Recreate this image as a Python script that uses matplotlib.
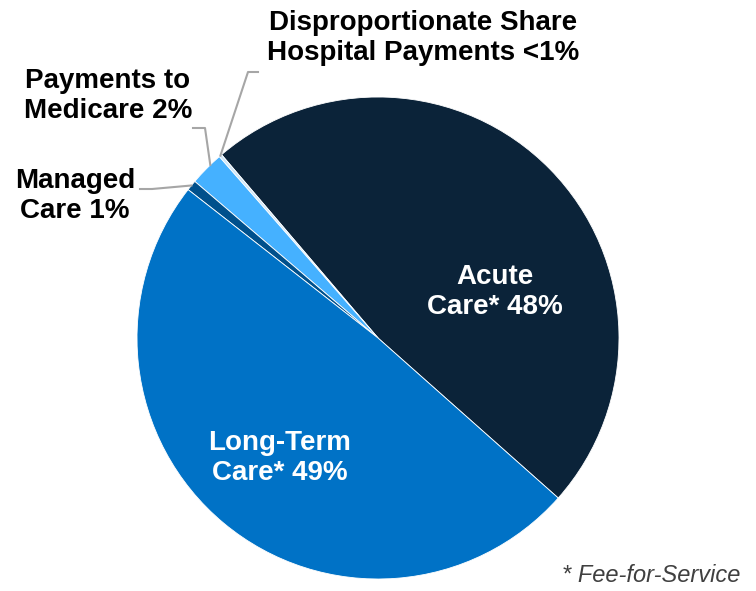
import matplotlib
matplotlib.use("Agg")
import matplotlib.pyplot as plt
import numpy as np

categories = ["Acute Care*", "Disproportionate Share Hospital Payments",
              "Payments to Medicare", "Managed Care", "Long-Term Care*"]
values = [47.8, 0.2, 2.3, 0.7, 49.0]
colors = ["#0b2339", "#cfe6f7", "#45b1ff", "#00508c", "#0072c6"]

plt.rcParams['font.family'] = ['Liberation Sans', 'DejaVu Sans']

W, H = 756, 591
fig = plt.figure(figsize=(W / 100, H / 100), dpi=100)
ax = fig.add_axes([0, 0, 1, 1])
ax.set_xlim(0, W)
ax.set_ylim(0, H)
ax.set_aspect('equal')
ax.axis('off')

cx, cy, r = 378, H - 338, 241
wedges, _ = ax.pie(values, colors=colors, startangle=-41.6, counterclock=True,
                   center=(cx, cy), radius=r,
                   wedgeprops=dict(edgecolor='white', linewidth=0.6))
ax.set_xlim(0, W)
ax.set_ylim(0, H)


def edge_point(w, frac=0.5, rr=1.0):
    ang = np.deg2rad(w.theta1 + frac * (w.theta2 - w.theta1))
    return cx + r * rr * np.cos(ang), cy + r * rr * np.sin(ang)


lc = "#a6a6a6"
fs = 20
ls = 1.25
# Inside labels
ax.text(495, H - 292, "Acute\nCare* 48%", color='white', fontsize=fs,
        fontweight='bold', ha='center', va='center', linespacing=ls)
ax.text(280, H - 458, "Long-Term\nCare* 49%", color='white', fontsize=fs,
        fontweight='bold', ha='center', va='center', linespacing=ls)

# DSH
px, py = edge_point(wedges[1], 0.5, 1.0)
ax.plot([258, 248, px], [H - 72, H - 72, py], color=lc, lw=1.5)
ax.text(423, H - 38, "Disproportionate Share\nHospital Payments <1%", color='black',
        fontsize=fs, fontweight='bold', ha='center', va='center', linespacing=ls)

# Medicare
px, py = edge_point(wedges[2], 0.35, 1.0)
ax.plot([193, 205, px], [H - 128, H - 128, py], color=lc, lw=1.5)
ax.text(108, H - 96, "Payments to\nMedicare 2%", color='black',
        fontsize=fs, fontweight='bold', ha='center', va='center', linespacing=ls)

# Managed care
px, py = edge_point(wedges[3], 0.5, 1.0)
ax.plot([140, 152, px], [H - 189, H - 189, py], color=lc, lw=1.5)
ax.text(75, H - 196, "Managed\nCare 1%", color='black',
        fontsize=fs, fontweight='bold', ha='center', va='center', linespacing=ls)

ax.text(740, H - 575, "* Fee-for-Service", color='#404040', fontsize=17,
        fontstyle='italic', ha='right', va='center')

fig.savefig("out.png", dpi=100)
